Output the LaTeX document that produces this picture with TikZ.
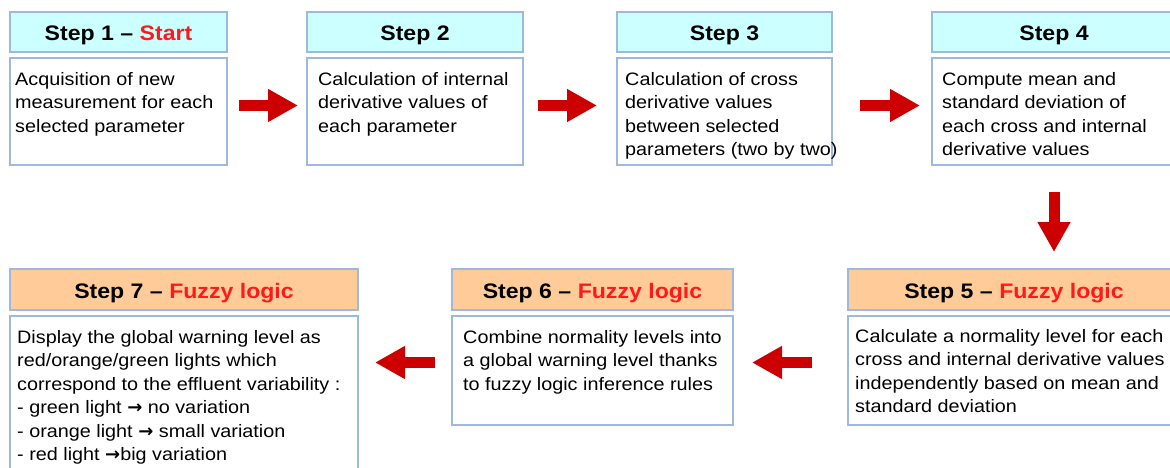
\documentclass[tikz,border=0pt]{standalone}
\usepackage{fontspec}
\setmainfont[FakeStretch=1.1]{Liberation Sans}
\newfontfamily\arrowglyph{DejaVu Sans}
\usetikzlibrary{arrows.meta,calc}
\definecolor{hdrcyan}{HTML}{CCFFFF}
\definecolor{hdrorange}{HTML}{FFCC99}
\definecolor{bordblue}{HTML}{9DB9DD}
\definecolor{arrred}{HTML}{CC0000}
\definecolor{txtred}{HTML}{FF1A1A}
\newcommand\rarr{{\arrowglyph\bfseries →}}
\tikzset{
  boxbase/.style={draw=bordblue, line width=2pt, anchor=north west, inner sep=0pt, outer sep=0pt},
  hdrcy/.style={boxbase, fill=hdrcyan, minimum height=40pt, text height=18.5pt, text depth=1pt, font=\fontsize{21}{24}\selectfont\bfseries},
  hdror/.style={boxbase, fill=hdrorange, minimum height=41pt, text height=19pt, text depth=1pt, font=\fontsize{21}{24}\selectfont\bfseries},
  bodybox/.style={boxbase, fill=white},
  bodytext/.style={anchor=north west, inner sep=0pt, align=left, font=\fontsize{18}{23.5}\selectfont},
  bigarrow/.style={arrred, line width=11pt, -{Triangle[length=30pt,width=31pt]}}
}
\begin{document}
\begin{tikzpicture}[x=1pt,y=-1pt]
\useasboundingbox (0,0) rectangle (1170,468);
\clip (0,0) rectangle (1170,468);
\fill[white] (0,0) rectangle (1170,468);
% row 1
\node[hdrcy, minimum width=217pt] (h1) at (10,12) {Step 1 -- \textcolor{txtred}{Start}};
\node[bodybox, minimum width=217pt, minimum height=107pt] (b1) at (10,58) {};
\node[bodytext] (t1) at (15,72) {Acquisition of new\\measurement for each\\selected parameter};

\node[hdrcy, minimum width=216pt] (h2) at (307,12) {Step 2};
\node[bodybox, minimum width=216pt, minimum height=107pt] (b2) at (307,58) {};
\node[bodytext] (t2) at (318,72) {Calculation of internal\\derivative values of\\each parameter};

\node[hdrcy, minimum width=215pt] (h3) at (617,12) {Step 3};
\node[bodybox, minimum width=215pt, minimum height=107pt] (b3) at (617,58) {};
\node[bodytext] (t3) at (625,72) {Calculation of cross\\derivative values\\between selected\\parameters (two by two)};

\node[hdrcy, minimum width=244pt] (h4) at (932,12) {Step 4};
\node[bodybox, minimum width=244pt, minimum height=107pt] (b4) at (932,58) {};
\node[bodytext] (t4) at (942,72) {Compute mean and\\standard deviation of\\each cross and internal\\derivative values};

% row 2
\node[hdror, minimum width=332pt] (h5) at (848,269) {Step 5 -- \textcolor{txtred}{Fuzzy logic}};
\node[bodybox, minimum width=332pt, minimum height=109pt] (b5) at (848,316) {};
\node[bodytext] (t5) at (855,329) {Calculate a normality level for each\\cross and internal derivative values\\independently based on mean and\\standard deviation};

\node[hdror, minimum width=281pt] (h6) at (452,269) {Step 6 -- \textcolor{txtred}{Fuzzy logic}};
\node[bodybox, minimum width=281pt, minimum height=109pt] (b6) at (452,316) {};
\node[bodytext] (t6) at (463,330) {Combine normality levels into\\a global warning level thanks\\to fuzzy logic inference rules};

\node[hdror, minimum width=348pt] (h7) at (10,269) {Step 7 -- \textcolor{txtred}{Fuzzy logic}};
\node[bodybox, minimum width=348pt, minimum height=170pt] (b7) at (10,316) {};
\node[bodytext] (t7) at (17,330) {Display the global warning level as\\red/orange/green lights which\\correspond to the effluent variability :\\- green light \rarr{} no variation\\- orange light \rarr{} small variation\\- red light \rarr big variation};

% arrows
\draw[bigarrow] ($(b1.east)+(12,-6)$) -- ($(b2.west)+(-9,-6)$);
\draw[bigarrow] ($(b2.east)+(15,-6)$) -- ($(b3.west)+(-20,-6)$);
\draw[bigarrow] ($(b3.east)+(28,-6)$) -- ($(b4.west)+(-12,-6)$);
\draw[bigarrow] ($(b4.south)+(0,27)$) -- ($(b4.south |- h5.north)+(0,-17)$);
\draw[bigarrow] ($(b5.west)+(-36,-8)$) -- ($(b6.east)+(19,-8)$);
\draw[bigarrow] ($(b6.west)+(-17,-8)$) -- ($(b6.west -| b7.east)+(17,-8)$);
\end{tikzpicture}
\end{document}
